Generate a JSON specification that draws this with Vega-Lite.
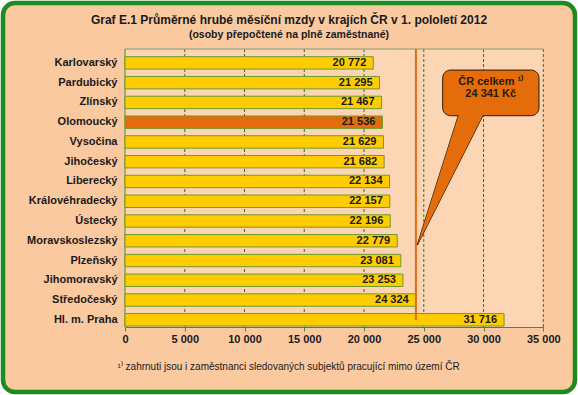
{
  "$schema": "https://vega.github.io/schema/vega-lite/v6.json",
  "width": 572,
  "height": 389,
  "autosize": {"type": "none"},
  "padding": 3,
  "background": "white",
  "title": {
    "text": "Graf E.1 Průměrné hrubé měsíční mzdy v krajích ČR v 1. pololetí 2012",
    "subtitle": "(osoby přepočtené na plně zaměstnané)",
    "frame": "group",
    "anchor": "middle",
    "orient": "top",
    "offset": -38,
    "font": "Liberation Sans",
    "fontSize": 12,
    "fontWeight": "bold",
    "color": "#1a1a1a",
    "subtitleFont": "Liberation Sans",
    "subtitleFontSize": 10.5,
    "subtitleFontWeight": "bold",
    "subtitleColor": "#1a1a1a",
    "subtitlePadding": 3
  },
  "config": {
    "locale": {"number": {"decimal": ",", "thousands": "\u00a0", "grouping": [3], "currency": ["", "\u00a0Kč"]}},
    "view": {"fill": "#FAC9A0", "stroke": "#1E8B1E", "strokeWidth": 4.5, "cornerRadius": 12},
    "font": "Liberation Sans"
  },
  "datasets": {
    "kraje": [
      {"kraj": "Karlovarský", "mzda": 20772},
      {"kraj": "Pardubický", "mzda": 21295},
      {"kraj": "Zlínský", "mzda": 21467},
      {"kraj": "Olomoucký", "mzda": 21536},
      {"kraj": "Vysočina", "mzda": 21629},
      {"kraj": "Jihočeský", "mzda": 21682},
      {"kraj": "Liberecký", "mzda": 22134},
      {"kraj": "Královéhradecký", "mzda": 22157},
      {"kraj": "Ústecký", "mzda": 22196},
      {"kraj": "Moravskoslezský", "mzda": 22779},
      {"kraj": "Plzeňský", "mzda": 23081},
      {"kraj": "Jihomoravský", "mzda": 23253},
      {"kraj": "Středočeský", "mzda": 24324},
      {"kraj": "Hl. m. Praha", "mzda": 31716}
    ],
    "prumer": [{"nazev": "ČR celkem", "mzda": 24341}],
    "mrizka": [
      {"hodnota": 5000}, {"hodnota": 10000}, {"hodnota": 15000}, {"hodnota": 20000},
      {"hodnota": 25000}, {"hodnota": 30000}, {"hodnota": 35000}
    ],
    "ukazatel": [
      {"r": 3.25, "x_levy": 27950, "x_pravy": 30020},
      {"r": 9.87, "x_levy": 24456, "x_pravy": 24456}
    ]
  },
  "layer": [
    {
      "layer": [
        {
          "data": {"name": "prumer"},
          "mark": {"type": "rect", "fill": "#FCD5B4"},
          "encoding": {
            "x": {"datum": 0, "type": "quantitative"},
            "x2": {"datum": 35000},
            "y": {"datum": 0, "type": "quantitative", "scale": {"domain": [0, 14], "range": [46, 324], "nice": false, "zero": false}, "axis": null},
            "y2": {"datum": 14}
          }
        },
        {
          "data": {"name": "mrizka"},
          "mark": {"type": "rule", "color": "#3F6F1F", "strokeDash": [3, 2], "strokeWidth": 1},
          "encoding": {
            "x": {"field": "hodnota", "type": "quantitative"},
            "y": {"datum": 0, "type": "quantitative"},
            "y2": {"datum": 14}
          }
        },
        {
          "data": {"name": "prumer"},
          "mark": {"type": "rule", "color": "#8C9670", "strokeWidth": 1},
          "encoding": {
            "x": {"datum": 0, "type": "quantitative"},
            "x2": {"datum": 35000},
            "y": {"datum": 0, "type": "quantitative"}
          }
        },
        {
          "data": {"name": "prumer"},
          "mark": {"type": "rule", "color": "#4A8A2A", "strokeWidth": 1},
          "encoding": {
            "x": {"datum": 0, "type": "quantitative"},
            "y": {"datum": 0, "type": "quantitative"},
            "y2": {"datum": 14}
          }
        }
      ]
    },
    {
      "data": {"name": "kraje"},
      "layer": [
        {
          "mark": {"type": "bar", "stroke": "#6E9A2E", "strokeWidth": 1},
          "encoding": {
            "y": {
              "field": "kraj", "type": "nominal", "sort": null,
              "scale": {"range": [50, 326.7], "paddingInner": 0.372, "paddingOuter": 0.186},
              "axis": {
                "orient": "left", "offset": -122, "domain": false, "ticks": false, "tickSize": 0,
                "labelPadding": 8, "labelFont": "Liberation Sans", "labelFontSize": 11,
                "labelFontWeight": "bold", "labelColor": "#1a1a1a", "title": null, "grid": false
              }
            },
            "x": {
              "field": "mzda", "type": "quantitative",
              "scale": {"domain": [0, 35000], "range": [122, 540.3], "nice": false},
              "axis": {
                "orient": "bottom", "offset": -65,
                "values": [0, 5000, 10000, 15000, 20000, 25000, 30000, 35000],
                "format": ",d", "grid": false, "labelFlush": false, "labelOverlap": false,
                "domainColor": "#4A8A2A", "domainWidth": 1, "tickColor": "#4A8A2A", "tickSize": 4,
                "labelFont": "Liberation Sans", "labelFontSize": 11, "labelFontWeight": "bold",
                "labelColor": "#1a1a1a", "labelPadding": 2,
                "title": "¹⁾ zahrnuti jsou i zaměstnanci sledovaných subjektů pracující mimo území ČR",
                "titleFont": "Liberation Sans", "titleFontSize": 10, "titleFontWeight": "normal",
                "titleColor": "#1a1a1a", "titleX": 114, "titleY": 39, "titleAlign": "left", "titleBaseline": "middle"
              }
            },
            "color": {"condition": {"test": "datum.kraj === 'Olomoucký'", "value": "#E46C0A"}, "value": "#FFCC00"}
          }
        },
        {
          "mark": {"type": "text", "align": "right", "dx": -7, "fontWeight": "bold", "fontSize": 11, "color": "#1a1a1a"},
          "encoding": {
            "y": {"field": "kraj", "type": "nominal", "sort": null},
            "x": {"field": "mzda", "type": "quantitative"},
            "text": {"field": "mzda", "type": "quantitative", "format": ",d"}
          }
        }
      ]
    },
    {
      "layer": [
        {
          "data": {"name": "prumer"},
          "mark": {"type": "rule", "color": "#E46C0A", "strokeWidth": 2},
          "encoding": {
            "x": {"field": "mzda", "type": "quantitative"},
            "y": {"datum": 0, "type": "quantitative", "scale": {"domain": [0, 14], "range": [46, 324], "nice": false, "zero": false}, "axis": null},
            "y2": {"datum": 13.65}
          }
        },
        {
          "data": {"name": "ukazatel"},
          "mark": {"type": "area", "orient": "horizontal", "fill": "#E46C0A", "stroke": "#2A1A0A", "strokeWidth": 1.2},
          "encoding": {
            "y": {"field": "r", "type": "quantitative"},
            "x": {"field": "x_levy", "type": "quantitative"},
            "x2": {"field": "x_pravy"}
          }
        },
        {
          "data": {"name": "prumer"},
          "mark": {"type": "rect", "fill": "#E46C0A", "stroke": "#2A1A0A", "strokeWidth": 1, "cornerRadius": 8},
          "encoding": {
            "x": {"datum": 26580, "type": "quantitative"},
            "x2": {"datum": 34640},
            "y": {"datum": 1.06, "type": "quantitative"},
            "y2": {"datum": 3.36}
          }
        },
        {
          "data": {"name": "ukazatel"},
          "mark": {"type": "area", "orient": "horizontal", "fill": "#E46C0A"},
          "encoding": {
            "y": {"field": "r", "type": "quantitative"},
            "x": {"field": "x_levy", "type": "quantitative"},
            "x2": {"field": "x_pravy"}
          }
        },
        {
          "data": {"name": "prumer"},
          "mark": {"type": "text", "fontWeight": "bold", "fontSize": 11, "color": "#2B1A0A", "align": "center", "baseline": "middle"},
          "encoding": {
            "x": {"datum": 30600, "type": "quantitative"},
            "y": {"datum": 1.68, "type": "quantitative"},
            "text": {"value": "ČR celkem ¹⁾"}
          }
        },
        {
          "data": {"name": "prumer"},
          "mark": {"type": "text", "fontWeight": "bold", "fontSize": 11, "color": "#2B1A0A", "align": "center", "baseline": "middle"},
          "encoding": {
            "x": {"datum": 30600, "type": "quantitative"},
            "y": {"datum": 2.25, "type": "quantitative"},
            "text": {"field": "mzda", "type": "quantitative", "format": "$,d"}
          }
        }
      ]
    }
  ],
  "resolve": {"scale": {"y": "independent"}, "axis": {"y": "independent"}}
}
